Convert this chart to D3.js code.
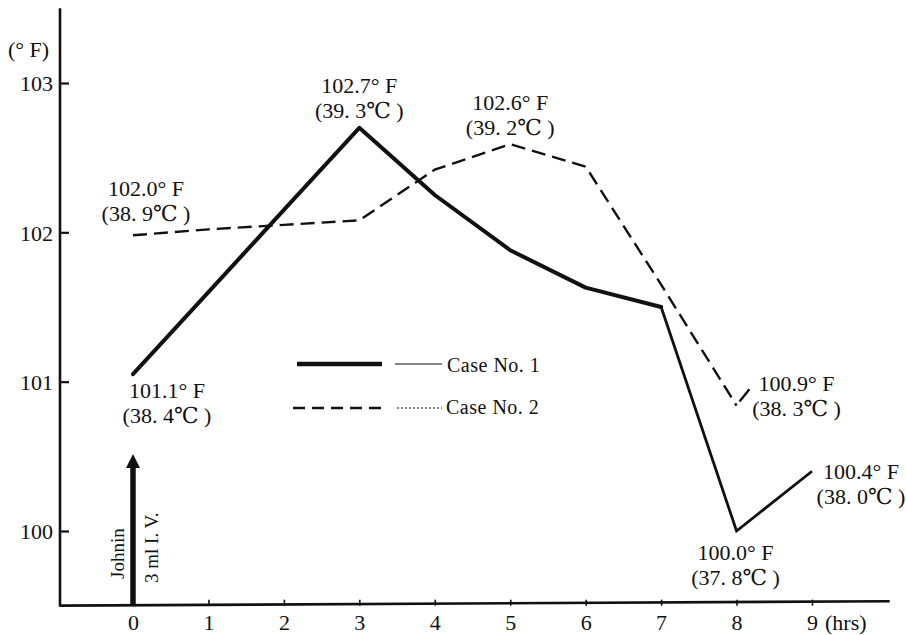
<!DOCTYPE html>
<html><head><meta charset="utf-8">
<script src="https://cdn.jsdelivr.net/npm/d3@7"></script>
<style>body{margin:0;background:#fff}svg{display:block}text{font-family:"Liberation Serif","DejaVu Serif",serif;fill:#111}</style>
</head><body><svg id="c" width="906" height="635"></svg>
<script>
const hours = [0,1,2,3,4,5,6,7,8,9];
const case1 = [101.05,101.6,102.15,102.7,102.25,101.88,101.63,101.5,100.0,100.4];
const case2Hours = [0,1,2,3,4,5,6,7,8,8.17];
const case2 = [101.98,102.02,102.05,102.08,102.42,102.59,102.44,101.65,100.84,100.95];
const yTicks = [100,101,102,103];
const xTicks = [0,1,2,3,4,5,6,7,8,9];
const annotations = [
  {h:3, t:102.7, f:"102.7° F", c:"(39. 3℃ )", dx:0, dy:-10},
  {h:5, t:102.6, f:"102.6° F", c:"(39. 2℃ )", dx:0, dy:-8},
  {h:0, t:102.0, f:"102.0° F", c:"(38. 9℃ )", dx:13, dy:-11},
  {h:0, t:101.1, f:"101.1° F", c:"(38. 4℃ )", dx:34, dy:56},
  {h:8, t:100.9, f:"100.9° F", c:"(38. 3℃ )", dx:60, dy:19},
  {h:9, t:100.4, f:"100.4° F", c:"(38. 0℃ )", dx:49, dy:33},
  {h:8, t:100.0, f:"100.0° F", c:"(37. 8℃ )", dx:-1, dy:54}
];
const legendLabels = ["Case No. 1","Case No. 2"];

const svg = d3.select("#c");
const x = d3.scaleLinear().domain([0,9]).range([133,812]);
const y = d3.scaleLinear().domain([100,103]).range([531,83]);
const font = 22;

// axes
svg.append("line").attr("x1",60).attr("x2",60).attr("y1",y(103.5)).attr("y2",y(99.5)+1)
  .attr("stroke","#111").attr("stroke-width",2.6);
svg.append("line").attr("x1",x(-0.96)).attr("x2",x(10.03)).attr("y1",y(99.5)).attr("y2",y(99.53))
  .attr("stroke","#111").attr("stroke-width",2.6);

const ya = svg.append("g").attr("transform","translate(60,0)")
  .call(d3.axisRight(y).tickValues(yTicks).tickSize(9).tickFormat(d3.format("d")));
ya.select(".domain").remove();
ya.selectAll(".tick line").attr("stroke","#111").attr("stroke-width",2.2);
ya.selectAll(".tick text").attr("x",-7).attr("text-anchor","end").attr("dy","0.35em")
  .style("font-size",font+"px").attr("fill","#111");

const xa = svg.append("g").attr("transform",`translate(0,${y(99.5)})`)
  .call(d3.axisTop(x).tickValues(xTicks).tickSize(6).tickFormat(d3.format("d")));
xa.select(".domain").remove();
xa.selectAll(".tick line").attr("stroke","#111").attr("stroke-width",1.6);
xa.selectAll(".tick text").attr("y",24).attr("dy",0).style("font-size",font+"px").attr("fill","#111");

svg.append("text").attr("x",x(9)+13).attr("y",y(99.5)+24).style("font-size",font+"px").text("(hrs)");
svg.append("text").attr("x",8).attr("y",57).style("font-size",font+"px").text("(° F)");

// case 1 solid
const pts1 = hours.map((h,i)=>[x(h),y(case1[i])]);
const line = d3.line();
svg.append("path").attr("d",line(pts1.slice(0,8))).attr("fill","none").attr("stroke","#111")
  .attr("stroke-width",4).attr("stroke-linejoin","round").attr("stroke-linecap","round");
svg.append("path").attr("d",line(pts1.slice(7))).attr("fill","none").attr("stroke","#111")
  .attr("stroke-width",2.8).attr("stroke-linejoin","miter");

// case 2 dashed (last short stroke drawn solid)
const pts2 = case2Hours.map((h,i)=>[x(h),y(case2[i])]);
svg.append("path").attr("d",line(pts2.slice(0,pts2.length-1))).attr("fill","none").attr("stroke","#111")
  .attr("stroke-width",2.4).attr("stroke-dasharray","14 7");
svg.append("path").attr("d",line([[pts2[pts2.length-2][0]+3,pts2[pts2.length-2][1]-4],pts2[pts2.length-1]]))
  .attr("fill","none").attr("stroke","#111").attr("stroke-width",2.4);

// annotations
annotations.forEach(a=>{
  const cx = x(a.h)+a.dx, cy = y(a.t)+a.dy;
  svg.append("text").attr("x",cx).attr("y",cy-25).attr("text-anchor","middle")
    .style("font-size",font+"px").text(a.f);
  svg.append("text").attr("x",cx).attr("y",cy).attr("text-anchor","middle")
    .style("font-size",font+"px").text(a.c);
});

// legend
svg.append("line").attr("x1",297).attr("x2",382).attr("y1",364).attr("y2",364).attr("stroke","#111").attr("stroke-width",4.5);
svg.append("line").attr("x1",395).attr("x2",442).attr("y1",364).attr("y2",364).attr("stroke","#111").attr("stroke-width",1.2);
svg.append("text").attr("x",447).attr("y",372).style("font-size","20px").style("letter-spacing","0.5px").text(legendLabels[0]);
svg.append("line").attr("x1",293).attr("x2",382).attr("y1",408).attr("y2",408).attr("stroke","#111").attr("stroke-width",2.4).attr("stroke-dasharray","12 7");
svg.append("line").attr("x1",397).attr("x2",442).attr("y1",408).attr("y2",408).attr("stroke","#111").attr("stroke-width",1).attr("stroke-dasharray","2 2");
svg.append("text").attr("x",446).attr("y",414).style("font-size","20px").style("letter-spacing","0.5px").text(legendLabels[1]);

// injection arrow
svg.append("line").attr("x1",x(0)).attr("x2",x(0)).attr("y1",y(99.5)).attr("y2",466)
  .attr("stroke","#111").attr("stroke-width",5.5);
svg.append("path").attr("d",`M${x(0)-7},468 L${x(0)},454 L${x(0)+7},468 Z`).attr("fill","#111");
svg.append("text").attr("transform",`translate(${x(0)-9},579) rotate(-90)`).style("font-size","19px").text("Johnin");
svg.append("text").attr("transform",`translate(${x(0)+25},583) rotate(-90)`).style("font-size","19px").text("3 ml I. V.");
</script></body></html>
